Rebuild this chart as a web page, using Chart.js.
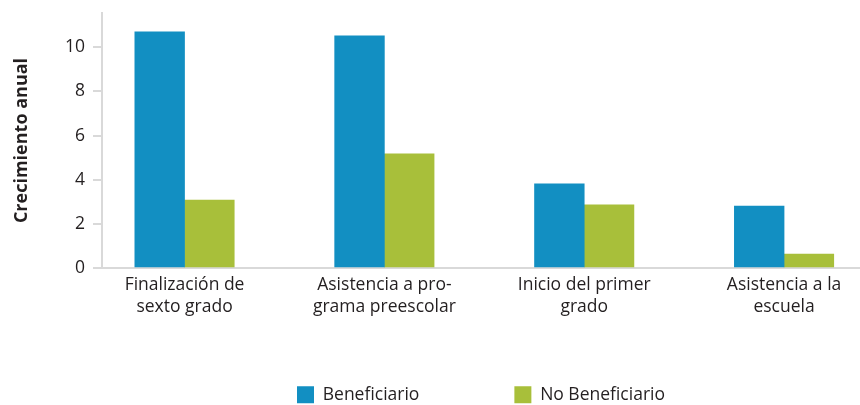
<!DOCTYPE html>
<html><head><meta charset="utf-8">
<script src="https://cdn.jsdelivr.net/npm/chart.js@4/dist/chart.umd.min.js"></script>
<style>html,body{margin:0;padding:0;background:#fff}#wrap{width:860px;height:405px}</style>
</head><body><div id="wrap"><canvas id="c" width="860" height="405"></canvas></div>
<script>
const categories = [["Finalización de","sexto grado"],["Asistencia a pro-","grama preescolar"],["Inicio del primer","grado"],["Asistencia a la","escuela"]];
const seriesNames = ["Beneficiario","No Beneficiario"];
const beneficiario = [10.7, 10.52, 3.81, 2.81];
const noBeneficiario = [3.08, 5.17, 2.86, 0.63];
const yTicks = [0, 2, 4, 6, 8, 10];

const FONT = "'Open Sans', 'Noto Sans', sans-serif";
const FS = 17.5;
const TXT = '#231f20';
const AXIS = '#d9d9d9';

const toPoints = arr => arr.map((v, i) => ({x: i, y: v}));

new Chart(document.getElementById('c'), {
  type: 'bar',
  data: {
    datasets: [
      {label: seriesNames[0], data: toPoints(beneficiario), backgroundColor: '#128fc2', borderWidth: 0},
      {label: seriesNames[1], data: toPoints(noBeneficiario), backgroundColor: '#a8bf3a', borderWidth: 0}
    ]
  },
  options: {
    responsive: false,
    devicePixelRatio: 1,
    animation: false,
    barThickness: 49.7,
    layout: {padding: {top: 13, left: 0, right: 0, bottom: 0}},
    scales: {
      x: {
        type: 'linear',
        position: 'bottom',
        offset: false,
        min: -0.413,
        max: 3.38,
        grid: {display: false, drawTicks: false},
        border: {display: true, color: AXIS, width: 2},
        afterBuildTicks: s => { s.ticks = categories.map((_, i) => ({value: i})); },
        afterFit: s => { s.height = 50; s.paddingLeft = 0; s.paddingRight = 0; },
        ticks: {
          autoSkip: false, maxRotation: 0, minRotation: 0, padding: 6,
          color: TXT, font: {family: FONT, size: FS, lineHeight: '22px'},
          callback: v => categories[v]
        }
      },
      y: {
        min: 0,
        max: 11.55,
        afterBuildTicks: s => { s.ticks = yTicks.map(v => ({value: v})); },
        afterFit: s => { s.width = 102; s.paddingTop = 0; s.paddingBottom = 0; },
        grid: {drawOnChartArea: false, drawTicks: true, tickLength: 9, color: AXIS, lineWidth: 2},
        border: {display: true, color: AXIS, width: 2},
        ticks: {padding: 8, color: TXT, font: {family: FONT, size: FS}},
        title: {display: true, text: 'Crecimiento anual', color: TXT,
          font: {family: FONT, size: 18, weight: 'bold'}, padding: {top: 11, bottom: 0}}
      }
    },
    plugins: {
      tooltip: {enabled: false},
      legend: {
        position: 'bottom',
        fullSize: false,
        maxHeight: 87,
        title: {display: true, text: '', font: {size: 10, lineHeight: '0px'}, padding: {top: -27, bottom: 0}},
        labels: {boxWidth: 17, boxHeight: 17, padding: 95, color: TXT, font: {family: FONT, size: FS}}
      }
    }
  }
});
</script>
</body></html>
